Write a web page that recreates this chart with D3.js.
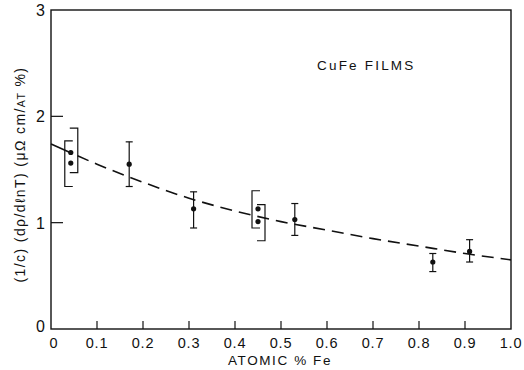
<!DOCTYPE html>
<html>
<head>
<meta charset="utf-8">
<script src="https://cdn.jsdelivr.net/npm/d3@7"></script>
<style>
  body { margin: 0; background: #fff; }
  svg text { font-family: "Liberation Sans", Arial, sans-serif; fill: #111; }
</style>
</head>
<body>
<div id="vis"></div>
<script>
const width = 524;
const height = 370;

// single points with error bars: x, y, low, high
const points = [
  { x: 0.17, y: 1.55, lo: 1.34, hi: 1.76 },
  { x: 0.31, y: 1.13, lo: 0.95, hi: 1.29 },
  { x: 0.53, y: 1.03, lo: 0.88, hi: 1.18 },
  { x: 0.83, y: 0.63, lo: 0.54, hi: 0.71 },
  { x: 0.91, y: 0.73, lo: 0.63, hi: 0.84 }
];

// pairs of points shown with brackets
const clusters = [
  { x: 0.043, ys: [1.66, 1.56], left: [1.34, 1.77], right: [1.47, 1.89] },
  { x: 0.45, ys: [1.13, 1.01], left: [0.95, 1.30], right: [0.83, 1.17] }
];

// dashed fit curve
const fitX = [0, 0.1, 0.2, 0.3, 0.4, 0.5, 0.6, 0.7, 0.8, 0.9, 1.0];
const fitY = [1.74, 1.55, 1.38, 1.23, 1.11, 1.01, 0.93, 0.85, 0.78, 0.71, 0.65];

const xTicks = [0, 0.1, 0.2, 0.3, 0.4, 0.5, 0.6, 0.7, 0.8, 0.9, 1.0];
const xTickLabels = ["0", "0.1", "0.2", "0.3", "0.4", "0.5", "0.6", "0.7", "0.8", "0.9", "1.0"];
const yTicks = [0, 1, 2, 3];

const mLeft = 51, mRight = 511, mTop = 10, mBottom = 329;
const ink = "#111";

const svg = d3.select("#vis")
  .append("svg")
  .attr("width", width)
  .attr("height", height);

const x = d3.scaleLinear().domain([0, 1]).range([mLeft, mRight]);
const y = d3.scaleLinear().domain([0, 3]).range([mBottom, mTop]);

// frame
svg.append("rect")
  .attr("x", mLeft)
  .attr("y", mTop)
  .attr("width", mRight - mLeft)
  .attr("height", mBottom - mTop)
  .attr("fill", "none")
  .attr("stroke", ink)
  .attr("stroke-width", 1.4);

// x ticks (inside, upward)
svg.selectAll(".xt")
  .data(xTicks.slice(1, -1))
  .enter()
  .append("line")
  .attr("x1", d => x(d))
  .attr("x2", d => x(d))
  .attr("y1", mBottom)
  .attr("y2", mBottom - 8)
  .attr("stroke", ink)
  .attr("stroke-width", 1.2);

svg.selectAll(".xl")
  .data(xTicks)
  .enter()
  .append("text")
  .attr("x", d => x(d) + (d === 0 ? 3 : 0))
  .attr("y", 348)
  .attr("text-anchor", "middle")
  .attr("font-size", "14.5px")
  .attr("letter-spacing", "0.8px")
  .text((d, i) => xTickLabels[i]);

// y ticks (inside, rightward)
svg.selectAll(".yt")
  .data(yTicks.slice(1, -1))
  .enter()
  .append("line")
  .attr("x1", mLeft)
  .attr("x2", mLeft + 12)
  .attr("y1", d => y(d))
  .attr("y2", d => y(d))
  .attr("stroke", ink)
  .attr("stroke-width", 1.2);

svg.selectAll(".yl")
  .data(yTicks)
  .enter()
  .append("text")
  .attr("x", 45)
  .attr("y", d => y(d) + 6 - (d === 0 ? 3 : 0))
  .attr("text-anchor", "end")
  .attr("font-size", "16px")
  .text(d => d);

// x axis title
svg.append("text")
  .attr("x", 280)
  .attr("y", 365)
  .attr("text-anchor", "middle")
  .attr("font-size", "13.5px")
  .attr("letter-spacing", "1.6px")
  .text("ATOMIC % Fe");

// y axis title
const yTitle = svg.append("text")
  .attr("transform", "translate(25," + ((mBottom + mTop) / 2 + 5) + ") rotate(-90)")
  .attr("text-anchor", "middle")
  .attr("font-size", "14px")
  .attr("letter-spacing", "1.4px");
yTitle.append("tspan").text("(1/c) (dρ/dℓnT) (μΩ cm/");
yTitle.append("tspan").attr("font-size", "10.5px").text("AT");
yTitle.append("tspan").text(" %)");

// label
svg.append("text")
  .attr("x", 317)
  .attr("y", 70)
  .attr("font-size", "13.5px")
  .attr("letter-spacing", "2.2px")
  .text("CuFe FILMS");

// fit curve: solid start, dashed after
const fitData = fitX.map((d, i) => ({ x: d, y: fitY[i] }));
const line = d3.line()
  .x(d => x(d.x))
  .y(d => y(d.y))
  .curve(d3.curveMonotoneX);

const dashes = [22, 7].concat(d3.range(60).flatMap(() => [12, 7]));

svg.append("path")
  .datum(fitData)
  .attr("fill", "none")
  .attr("stroke", ink)
  .attr("stroke-width", 1.6)
  .attr("stroke-dasharray", dashes.join(","))
  .attr("d", line);

// error bars
const cap = 3.5;
points.forEach(p => {
  const g = svg.append("g").attr("stroke", ink).attr("stroke-width", 1.2);
  g.append("line")
    .attr("x1", x(p.x)).attr("x2", x(p.x))
    .attr("y1", y(p.lo)).attr("y2", y(p.hi));
  [p.lo, p.hi].forEach(v => {
    g.append("line")
      .attr("x1", x(p.x) - cap).attr("x2", x(p.x) + cap)
      .attr("y1", y(v)).attr("y2", y(v));
  });
  svg.append("circle")
    .attr("cx", x(p.x))
    .attr("cy", y(p.y))
    .attr("r", 2.6)
    .attr("fill", ink);
});

// bracketed pairs
clusters.forEach(c => {
  const cx = x(c.x);
  const bx0 = cx - 6, bx1 = cx + 7;
  const arm = 8;
  const g = svg.append("g")
    .attr("fill", "none")
    .attr("stroke", ink)
    .attr("stroke-width", 1.2);
  g.append("path")
    .attr("d", `M${bx0 + arm},${y(c.left[1])}H${bx0}V${y(c.left[0])}H${bx0 + arm}`);
  g.append("path")
    .attr("d", `M${bx1 - arm},${y(c.right[1])}H${bx1}V${y(c.right[0])}H${bx1 - arm}`);
  c.ys.forEach(v => {
    svg.append("circle")
      .attr("cx", cx)
      .attr("cy", y(v))
      .attr("r", 2.6)
      .attr("fill", ink);
  });
});
</script>
</body>
</html>
